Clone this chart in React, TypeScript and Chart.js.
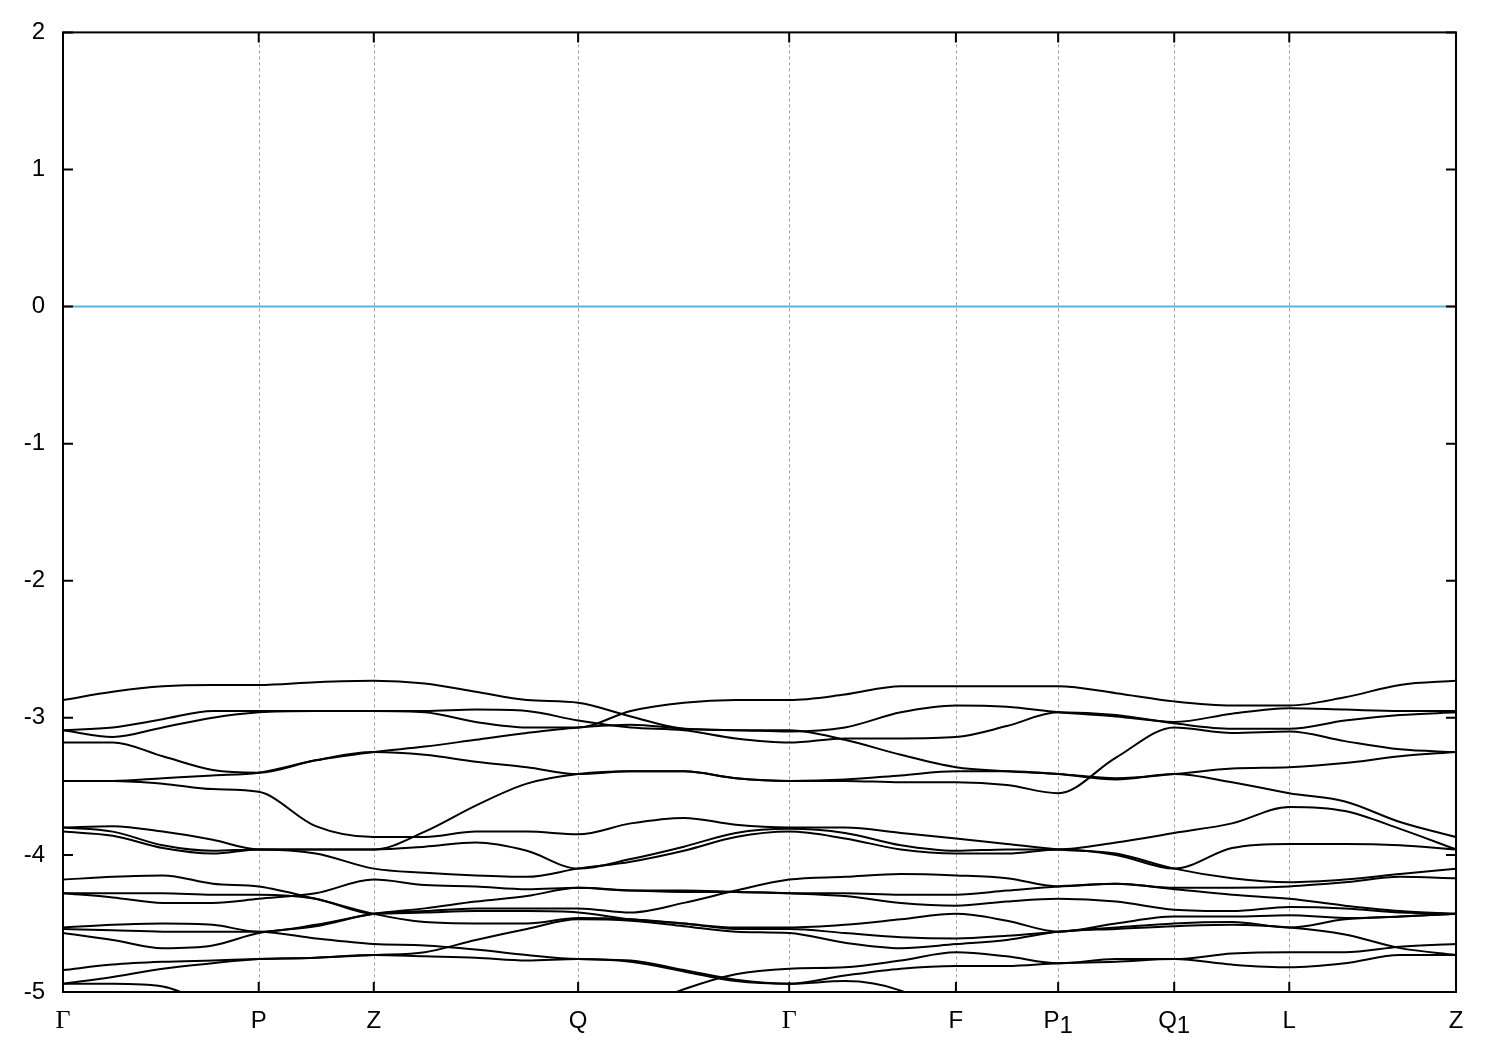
import React, { useEffect, useRef } from "react";
import { Chart, registerables } from "chart.js";

Chart.register(...registerables);

// k-path coordinate (fraction of the total path length) of every sample
const kPoints = [
  0, 0.0357, 0.0716, 0.1075, 0.1405, 0.1814, 0.2231, 0.2597, 0.2963, 0.333, 0.3698,
  0.4076, 0.4457, 0.483, 0.5213, 0.5613, 0.6015, 0.641, 0.6776, 0.7144, 0.7559,
  0.7977, 0.8392, 0.8803, 0.9203, 0.9598, 1.0,
];

// high-symmetry points
const symPositions = [0, 0.1405, 0.2231, 0.3698, 0.5213, 0.641, 0.7144, 0.7977, 0.8803, 1.0];
const symLabels = ["Γ", "P", "Z", "Q", "Γ", "F", "P", "Q", "L", "Z"];
const symSubscripts = ["", "", "", "", "", "", "1", "1", "", ""];

// energy axis
const yMin = -5;
const yMax = 2;
const yStep = 1;
const fermiLevel = 0;

// band energies (eV) at each kPoint
const band01 = [-2.87, -2.81, -2.77, -2.76, -2.76, -2.74, -2.73, -2.75, -2.81, -2.87, -2.89, -2.99, -3.08, -3.09, -3.1, -3.07, -2.96, -2.91, -2.92, -2.96, -2.99, -3.03, -2.97, -2.93, -2.94, -2.95, -2.95];
const band02 = [-3.09, -3.07, -3.01, -2.95, -2.95, -2.95, -2.95, -2.95, -2.94, -2.95, -3.02, -3.07, -3.09, -3.15, -3.18, -3.15, -3.15, -3.14, -3.06, -2.96, -2.98, -3.04, -3.08, -3.08, -3.02, -2.98, -2.96];
const band03 = [-3.09, -3.14, -3.07, -3.0, -2.96, -2.95, -2.95, -2.96, -3.03, -3.07, -3.07, -2.95, -2.89, -2.87, -2.87, -2.83, -2.77, -2.77, -2.77, -2.77, -2.82, -2.88, -2.91, -2.91, -2.85, -2.76, -2.73];
const band04 = [-3.18, -3.18, -3.28, -3.38, -3.4, -3.31, -3.25, -3.21, -3.16, -3.11, -3.07, -3.05, -3.08, -3.09, -3.09, -3.16, -3.27, -3.36, -3.39, -3.41, -3.44, -3.41, -3.37, -3.36, -3.33, -3.28, -3.25];
const band05 = [-3.46, -3.46, -3.44, -3.42, -3.4, -3.31, -3.25, -3.27, -3.32, -3.36, -3.41, -3.39, -3.39, -3.44, -3.46, -3.45, -3.42, -3.39, -3.39, -3.41, -3.45, -3.41, -3.47, -3.55, -3.61, -3.76, -3.87];
const band06 = [-3.46, -3.46, -3.48, -3.52, -3.54, -3.79, -3.87, -3.87, -3.83, -3.83, -3.85, -3.77, -3.73, -3.78, -3.8, -3.8, -3.84, -3.88, -3.92, -3.96, -3.99, -4.1, -4.17, -4.2, -4.18, -4.14, -4.1];
const band07 = [-3.8, -3.79, -3.83, -3.89, -3.96, -3.96, -3.96, -3.83, -3.64, -3.48, -3.41, -3.39, -3.39, -3.44, -3.46, -3.46, -3.47, -3.47, -3.49, -3.55, -3.29, -3.07, -3.11, -3.1, -3.17, -3.23, -3.25];
const band08 = [-3.8, -3.83, -3.93, -3.97, -3.96, -3.96, -3.96, -3.94, -3.91, -3.97, -4.1, -4.03, -3.94, -3.84, -3.81, -3.84, -3.93, -3.97, -3.96, -3.96, -3.91, -3.84, -3.77, -3.65, -3.68, -3.81, -3.96];
const band09 = [-3.83, -3.86, -3.95, -3.99, -3.96, -3.99, -4.1, -4.13, -4.15, -4.16, -4.1, -4.05, -3.97, -3.87, -3.83, -3.88, -3.96, -3.99, -3.99, -3.96, -4.0, -4.1, -3.95, -3.92, -3.92, -3.93, -3.96];
const band10 = [-4.18, -4.16, -4.15, -4.21, -4.23, -4.32, -4.43, -4.49, -4.5, -4.5, -4.46, -4.47, -4.5, -4.53, -4.53, -4.51, -4.47, -4.43, -4.48, -4.56, -4.5, -4.45, -4.45, -4.44, -4.46, -4.45, -4.43];
const band11 = [-4.28, -4.28, -4.28, -4.29, -4.29, -4.32, -4.43, -4.42, -4.41, -4.41, -4.42, -4.47, -4.5, -4.54, -4.54, -4.57, -4.6, -4.61, -4.59, -4.56, -4.53, -4.5, -4.49, -4.53, -4.47, -4.45, -4.43];
const band12 = [-4.28, -4.31, -4.35, -4.35, -4.32, -4.28, -4.18, -4.22, -4.23, -4.25, -4.24, -4.26, -4.27, -4.27, -4.28, -4.28, -4.29, -4.29, -4.26, -4.23, -4.21, -4.24, -4.24, -4.23, -4.2, -4.16, -4.17];
const band13 = [-4.53, -4.51, -4.5, -4.51, -4.56, -4.51, -4.43, -4.39, -4.34, -4.3, -4.24, -4.26, -4.26, -4.27, -4.28, -4.3, -4.35, -4.37, -4.34, -4.32, -4.34, -4.4, -4.41, -4.38, -4.39, -4.42, -4.43];
const band14 = [-4.54, -4.55, -4.56, -4.56, -4.56, -4.61, -4.65, -4.66, -4.69, -4.73, -4.76, -4.77, -4.84, -4.91, -4.94, -4.88, -4.83, -4.81, -4.81, -4.79, -4.78, -4.76, -4.8, -4.82, -4.79, -4.73, -4.73];
const band15 = [-4.57, -4.62, -4.68, -4.66, -4.57, -4.52, -4.43, -4.41, -4.39, -4.39, -4.39, -4.42, -4.35, -4.26, -4.18, -4.16, -4.14, -4.15, -4.17, -4.23, -4.21, -4.25, -4.29, -4.32, -4.37, -4.41, -4.43];
const band16 = [-4.84, -4.8, -4.78, -4.77, -4.76, -4.75, -4.73, -4.71, -4.62, -4.54, -4.47, -4.48, -4.52, -4.56, -4.57, -4.64, -4.68, -4.65, -4.62, -4.56, -4.54, -4.52, -4.51, -4.53, -4.58, -4.68, -4.73];
const band17 = [-4.94, -4.89, -4.83, -4.79, -4.76, -4.75, -4.73, -4.74, -4.75, -4.77, -4.76, -4.78, -4.85, -4.92, -4.94, -4.92, -4.99, -5.21, -5.32, -5.35, -5.35, -5.35, -5.35, -5.35, -5.35, -5.35, -5.35];
const band18 = [-4.94, -4.94, -4.96, -5.1, -5.21, -5.32, -5.35, -5.35, -5.35, -5.35, -5.32, -5.14, -4.98, -4.87, -4.83, -4.82, -4.77, -4.71, -4.74, -4.79, -4.76, -4.76, -4.72, -4.71, -4.71, -4.67, -4.65];

const bands = [
  band01, band02, band03, band04, band05, band06, band07, band08, band09,
  band10, band11, band12, band13, band14, band15, band16, band17, band18,
];

const SANS = '"Liberation Sans", Arial, Helvetica, sans-serif';
const SERIF = '"Liberation Serif", "Times New Roman", serif';
const FONT_SIZE = 24;

const framePlugin = {
  id: "gnuplotFrame",
  beforeDatasetsDraw(chart: any) {
    const { ctx, chartArea: a, scales } = chart;
    const x = scales.x;
    ctx.save();
    ctx.strokeStyle = "#a0a0a0";
    ctx.lineWidth = 1;
    ctx.setLineDash([3, 3]);
    symPositions.forEach((k, i) => {
      if (i === 0 || i === symPositions.length - 1) return;
      const px = Math.round(x.getPixelForValue(k)) + 0.5;
      ctx.beginPath();
      ctx.moveTo(px, a.top);
      ctx.lineTo(px, a.bottom);
      ctx.stroke();
    });
    ctx.restore();
  },
  afterDraw(chart: any) {
    const { ctx, chartArea: a, scales } = chart;
    const x = scales.x;
    const y = scales.y;
    ctx.save();
    ctx.setLineDash([]);
    ctx.strokeStyle = "#000";
    ctx.lineWidth = 2;
    ctx.strokeRect(a.left, a.top, a.right - a.left, a.bottom - a.top);
    const tl = 10;
    // y ticks, inward on both sides
    for (let v = yMin; v <= yMax; v += yStep) {
      const py = y.getPixelForValue(v);
      ctx.beginPath();
      ctx.moveTo(a.left, py);
      ctx.lineTo(a.left + tl, py);
      ctx.moveTo(a.right, py);
      ctx.lineTo(a.right - tl, py);
      ctx.stroke();
    }
    // x ticks at high-symmetry points, inward top and bottom
    symPositions.forEach((k) => {
      const px = x.getPixelForValue(k);
      ctx.beginPath();
      ctx.moveTo(px, a.bottom);
      ctx.lineTo(px, a.bottom - tl);
      ctx.moveTo(px, a.top);
      ctx.lineTo(px, a.top + tl);
      ctx.stroke();
    });
    // x labels
    ctx.fillStyle = "#000";
    ctx.textBaseline = "alphabetic";
    ctx.textAlign = "left";
    const base = a.bottom + 36;
    symPositions.forEach((k, i) => {
      const px = x.getPixelForValue(k);
      const label = symLabels[i];
      const sub = symSubscripts[i];
      const isGreek = label === "Γ";
      const mainFont = isGreek ? `26px ${SERIF}` : `${FONT_SIZE}px ${SANS}`;
      ctx.font = mainFont;
      const w1 = ctx.measureText(label).width;
      ctx.font = `${FONT_SIZE}px ${SANS}`;
      const w2 = sub ? ctx.measureText(sub).width : 0;
      const start = px - (w1 + w2) / 2;
      ctx.font = mainFont;
      ctx.fillText(label, start, base);
      if (sub) {
        ctx.font = `${FONT_SIZE}px ${SANS}`;
        ctx.fillText(sub, start + w1, base + 5);
      }
    });
    ctx.restore();
  },
};

export default function App() {
  const ref = useRef<HTMLCanvasElement | null>(null);

  useEffect(() => {
    const canvas = ref.current;
    if (!canvas) return;
    const datasets: any[] = [
      {
        label: "E_F",
        data: [
          { x: symPositions[0], y: fermiLevel },
          { x: symPositions[symPositions.length - 1], y: fermiLevel },
        ],
        borderColor: "#56b4e9",
        borderWidth: 2,
        pointRadius: 0,
        order: 2,
      },
      ...bands.map((b, i) => ({
        label: `band ${i + 1}`,
        data: kPoints.map((k, j) => ({ x: k, y: b[j] })),
        borderColor: "#000000",
        borderWidth: 2,
        pointRadius: 0,
        cubicInterpolationMode: "monotone",
        order: 1,
      })),
    ];
    const chart = new Chart(canvas, {
      type: "line",
      data: { datasets },
      options: {
        animation: false,
        responsive: false,
        devicePixelRatio: 1,
        layout: { padding: { left: 0, right: 44, top: 28, bottom: 0 } },
        plugins: { legend: { display: false }, tooltip: { enabled: false } },
        events: [],
        scales: {
          x: {
            type: "linear",
            min: 0,
            max: 1,
            grid: { display: false, drawTicks: false },
            border: { display: false },
            ticks: { display: false },
            afterFit: (s: any) => {
              s.height = 58;
            },
          },
          y: {
            type: "linear",
            min: yMin,
            max: yMax,
            grid: { display: false, drawTicks: false },
            border: { display: false },
            ticks: {
              stepSize: yStep,
              padding: 18,
              color: "#000",
              font: { family: SANS, size: FONT_SIZE },
            },
            afterFit: (s: any) => {
              s.width = 63;
            },
          },
        },
      },
      plugins: [framePlugin],
    });
    return () => chart.destroy();
  }, []);

  return (
    <div style={{ position: "absolute", left: 0, top: 0, width: 1500, height: 1050, background: "#fff" }}>
      <canvas ref={ref} width={1500} height={1050} style={{ display: "block" }} />
    </div>
  );
}
